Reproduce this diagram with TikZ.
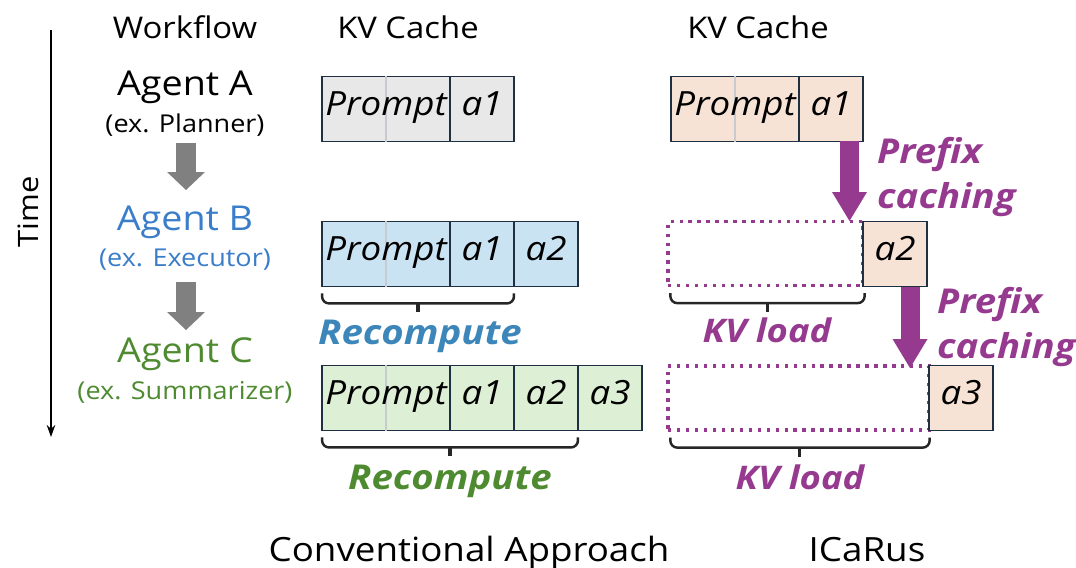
\documentclass[tikz,border=0pt]{standalone}
\usepackage{fontspec}
\setmainfont{Open Sans}[FakeStretch=1.1]
\newfontfamily\tagfamily{Open Sans}[FakeStretch=1.12]
\usetikzlibrary{arrows.meta,calc}

\definecolor{edge}{HTML}{1E3042}
\definecolor{grayfill}{HTML}{E8E8E8}
\definecolor{bluefill}{HTML}{C9E3F2}
\definecolor{greenfill}{HTML}{DDEFD4}
\definecolor{peachfill}{HTML}{F7E3D6}
\definecolor{agentblue}{HTML}{3A7DC9}
\definecolor{recblue}{HTML}{3C86B9}
\definecolor{agentgreen}{HTML}{4E8A30}
\definecolor{purp}{HTML}{953A8F}
\definecolor{flowgray}{HTML}{808080}

\tikzset{
  cell/.style={draw=edge, line width=1.1pt, inner sep=0pt,
    minimum height=1.3cm, minimum width=1.28cm,
    text height=0.72em, text depth=0pt,
    font=\fontsize{19}{19}\selectfont\itshape},
  widecell/.style={cell, minimum width=2.56cm},
  celltext/.style={inner sep=0pt, text height=0.72em, text depth=0pt,
    font=\fontsize{19}{19}\selectfont\itshape},
  divider/.style={draw=edge!25, line width=0.9pt},
  ghost/.style={draw=purp, line width=1.9pt, dash pattern=on 1.9pt off 3.2pt,
    inner sep=0pt, minimum height=1.28cm},
  heading/.style={anchor=base, font=\fontsize{17}{17}\selectfont},
  caption/.style={anchor=base, font=\fontsize{19}{19}\selectfont},
  agent/.style={anchor=base, font=\fontsize{19.5}{19.5}\selectfont},
  role/.style={anchor=base, font=\fontsize{14}{14}\selectfont},
  tag/.style={anchor=base, font=\tagfamily\fontsize{19.5}{19.5}\selectfont\bfseries\itshape},
  smalltag/.style={tag, font=\tagfamily\fontsize{18.5}{18.5}\selectfont\bfseries\itshape},
  bracket/.style={draw=black!85, line width=1.4pt, rounded corners=4pt},
  bracetick/.style={draw=black!85, line width=2.2pt},
  flow/.style={draw=flowgray, line width=0.4cm,
    -{Triangle[width=0.76cm,length=0.36cm,line width=0pt]}},
  reuse/.style={draw=purp, line width=0.38cm,
    -{Triangle[width=0.7cm,length=0.58cm,line width=0pt]}},
}

\begin{document}
\begin{tikzpicture}[x=0.02cm,y=-0.02cm]
\useasboundingbox (0,0) rectangle (1076,568);

% ---------- time axis ----------
\coordinate (tTop) at (51,30);
\coordinate (tBot) at (51,437);
\draw[line width=1.1pt, -{Stealth[length=0.24cm,width=0.17cm]}] (tTop) -- (tBot);
\node[rotate=90, font=\fontsize{16}{16}\selectfont] (time) at (28,212) {Time};

% ---------- column headings ----------
\node[heading] (hflow) at (185,38) {Workflow};
\node[heading] (hconv) at (408,38) {KV Cache};
\node[heading] (hicar) at (758,38) {KV Cache};

% ---------- workflow ----------
\node[agent] (agA) at (185,95) {Agent A};
\node[role] (roA) at (185,132) {(ex. Planner)};
\node[agent, text=agentblue] (agB) at (185,230) {Agent B};
\node[role, text=agentblue] (roB) at (185,266) {(ex. Executor)};
\node[agent, text=agentgreen] (agC) at (185,362) {Agent C};
\node[role, text=agentgreen] (roC) at (185,399) {(ex. Summarizer)};

\coordinate (f1s) at (186,143);
\coordinate (f1e) at (186,190);
\coordinate (f2s) at (186,282);
\coordinate (f2e) at (186,330);
\draw[flow] (f1s) -- (f1e);
\draw[flow] (f2s) -- (f2e);

% ---------- conventional approach ----------
% row A
\node[widecell, fill=grayfill] (cAp) at (386,109) {};
\draw[divider] (cAp.north) -- (cAp.south);
\node[celltext] at (cAp) {Prompt};
\node[cell, fill=grayfill] (cAa1) at (482,109) {a1};
% row B
\node[widecell, fill=bluefill] (cBp) at (386,254) {};
\draw[divider] (cBp.north) -- (cBp.south);
\node[celltext] at (cBp) {Prompt};
\node[cell, fill=bluefill] (cBa1) at (482,254) {a1};
\node[cell, fill=bluefill] (cBa2) at (546,254) {a2};
% row C
\node[widecell, fill=greenfill] (cCp) at (386,398) {};
\draw[divider] (cCp.north) -- (cCp.south);
\node[celltext] at (cCp) {Prompt};
\node[cell, fill=greenfill] (cCa1) at (482,398) {a1};
\node[cell, fill=greenfill] (cCa2) at (546,398) {a2};
\node[cell, fill=greenfill] (cCa3) at (610,398) {a3};

% recompute brackets
\draw[bracket] ($(cBp.south west)+(1,6)$) -- ++(0,10) -- ($(cBa1.south east)+(-1,16)$) -- ++(0,-10);
\draw[bracetick] ($(cBp.south west)!0.5!(cBa1.south east)+(0,16)$) -- ++(0,9);
\node[tag, text=recblue] (recB) at (420,344) {Recompute};

\draw[bracket] ($(cCp.south west)+(1,6)$) -- ++(0,10) -- ($(cCa2.south east)+(-1,16)$) -- ++(0,-10);
\draw[bracetick] ($(cCp.south west)!0.5!(cCa2.south east)+(0,16)$) -- ++(0,9);
\node[tag, text=agentgreen] (recC) at (450,489) {Recompute};

% ---------- ICaRus ----------
% row A
\node[widecell, fill=peachfill] (iAp) at (735,109) {};
\draw[divider] (iAp.north) -- (iAp.south);
\node[celltext] at (iAp) {Prompt};
\node[cell, fill=peachfill] (iAa1) at (831,109) {a1};
% row B
\node[ghost, minimum width=3.9cm] (iBk) at (765.5,253.5) {};
\node[cell, fill=peachfill] (iBa2) at (895,254) {a2};
% row C
\node[ghost, minimum width=5.22cm] (iCk) at (798.5,398) {};
\node[cell, fill=peachfill] (iCa3) at (961,398) {a3};

% prefix caching arrows
\coordinate (p1s) at (849.5,141);
\coordinate (p1e) at (849.5,221);
\draw[reuse] (p1s) -- (p1e);
\node[tag, text=purp, anchor=base west] (pc1a) at (871,163) {Prefix};
\node[tag, text=purp, anchor=base west] (pc1b) at (871,208) {caching};

\coordinate (p2s) at (910,287);
\coordinate (p2e) at (910,368);
\draw[reuse] (p2s) -- (p2e);
\node[tag, text=purp, anchor=base west] (pc2a) at (931,313) {Prefix};
\node[tag, text=purp, anchor=base west] (pc2b) at (931,358) {caching};

% kv load brackets
\draw[bracket] ($(iBk.south west)+(4,6)$) -- ++(0,10) -- ($(iBk.south east)+(0,16)$) -- ++(0,-10);
\draw[bracetick] ($(iBk.south west)!0.5!(iBk.south east)+(2,16)$) -- ++(0,9);
\node[smalltag, text=purp] (kvB) at (767,342) {KV load};

\draw[bracket] ($(iCk.south west)+(4,6)$) -- ++(0,10) -- ($(iCk.south east)+(-1,16)$) -- ++(0,-10);
\draw[bracetick] ($(iCk.south west)!0.5!(iCk.south east)+(1,16)$) -- ++(0,9);
\node[smalltag, text=purp] (kvC) at (800,489) {KV load};

% ---------- captions ----------
\node[caption] (capconv) at (469,561) {Conventional Approach};
\node[caption] (capicar) at (867,561) {ICaRus};
\end{tikzpicture}
\end{document}
